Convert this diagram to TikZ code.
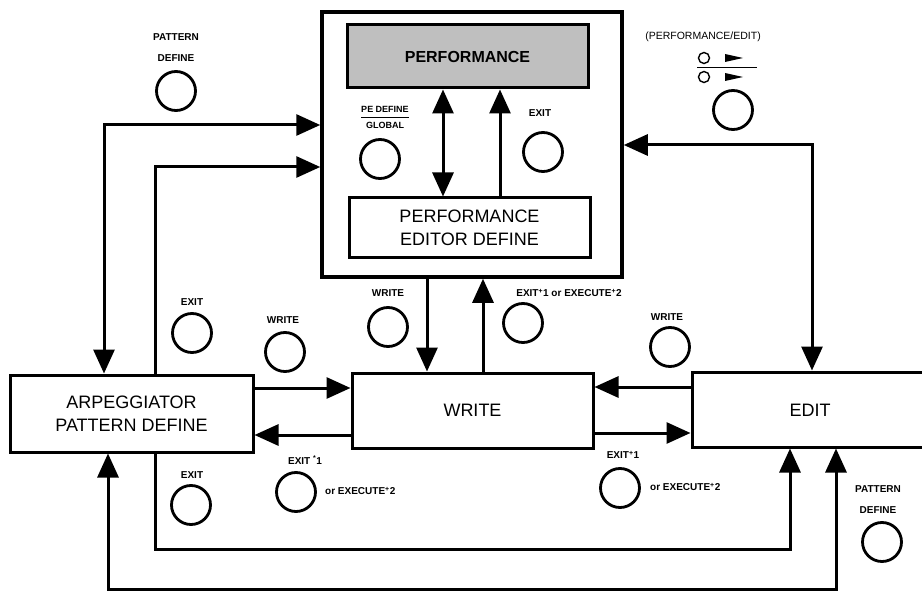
\documentclass[tikz,border=0pt]{standalone}
\usepackage{fontspec}
\setmainfont{Liberation Sans}
\usetikzlibrary{arrows.meta}

\begin{document}
\begin{tikzpicture}[x=1pt, y=-1pt,
    box/.style={rectangle, draw, line width=3pt, inner sep=0pt,
                font=\fontsize{18}{23}\selectfont, align=center},
    btn/.style={circle, draw, line width=2.8pt, minimum size=39pt, inner sep=0pt},
    lbl/.style={font=\fontsize{10}{21}\selectfont\bfseries, align=center, inner sep=0pt},
    arr/.style={-{Triangle[length=24pt, width=21pt]}, line width=3pt},
    arrs/.style={{Triangle[length=24pt, width=21pt]}-{Triangle[length=24pt, width=21pt]}, line width=3pt}
  ]
  \useasboundingbox (0,0) rectangle (922,591);
  \clip (0,0) rectangle (922,591);

  % Performance panel
  \node[box, line width=3.5pt, minimum width=300pt, minimum height=265pt]
        (perf) at (472,144.5) {};
  \node[box, fill=gray!50, minimum width=241pt, minimum height=63pt,
        font=\fontsize{16}{18}\selectfont\bfseries]
        (disp) at (467.5,56.5) {PERFORMANCE};
  \node[box, minimum width=241pt, minimum height=59pt]
        (ped) at (469.5,227.5) {PERFORMANCE\\EDITOR DEFINE};

  % Mode boxes
  \node[box, minimum width=243pt, minimum height=77pt]
        (arp) at (131.5,413.5) {ARPEGGIATOR\\PATTERN DEFINE};
  \node[box, minimum width=241pt, minimum height=75pt]
        (wrt) at (472.5,410.5) {WRITE};
  \node[box, minimum width=233pt, minimum height=75pt]
        (edit) at (808.5,409.5) {};
  \node[font=\fontsize{18}{23}\selectfont] (edittxt) at (810,410) {EDIT};

  % Buttons
  \node[lbl] (patdeftl) at (176,48) {PATTERN\\DEFINE};
  \node[btn] (bpatdeftl) at (176,91) {};
  \node[lbl, font=\fontsize{9}{10}\selectfont\bfseries] (pedef) at (385,119)
        {\setlength{\arrayrulewidth}{1pt}\begin{tabular}{@{}c@{}}PE DEFINE\\[1pt]\hline\rule{0pt}{11pt}GLOBAL\end{tabular}};
  \node[btn] (bpedef) at (380,159) {};
  \node[lbl] (exitp) at (540,113) {EXIT};
  \node[btn] (bexitp) at (543,152) {};
  \node[font=\fontsize{10.5}{12}\selectfont, inner sep=0pt] (perfedit) at (703,37) {(PERFORMANCE/EDIT)};
  % key symbol
  \draw[line width=1.4pt] (704,58) circle (5.5) (704,77) circle (5.5);
  \draw[line width=1.4pt] (697,67.5) -- (757,67.5);
  \fill (725,54) -- (743,58) -- (725,62) -- cycle;
  \fill (725,73) -- (743,77) -- (725,81) -- cycle;
  \node[btn] (bperfedit) at (733,110) {};

  \node[lbl] (exita) at (192,302) {EXIT};
  \node[btn] (bexita) at (192,333) {};
  \node[lbl] (writea) at (283,320) {WRITE};
  \node[btn] (bwritea) at (285,352) {};
  \node[lbl] (writep) at (388,293) {WRITE};
  \node[btn] (bwritep) at (388,327) {};
  \node[lbl] (exexp) at (569,293) {EXIT\textsuperscript{+}1 or EXECUTE\textsuperscript{+}2};
  \node[btn] (bexexp) at (523,323) {};
  \node[lbl] (writee) at (667,317) {WRITE};
  \node[btn] (bwritee) at (670,347) {};

  \node[lbl] (exitb) at (192,475) {EXIT};
  \node[btn] (bexitb) at (191,505) {};
  \node[lbl] (exexw) at (305,460) {EXIT \textsuperscript{*}1};
  \node[btn] (bexexw) at (296,492) {};
  \node[lbl, anchor=west] (exexw2) at (325,491) {or EXECUTE\textsuperscript{+}2};
  \node[lbl] (exexe) at (623,455) {EXIT\textsuperscript{+}1};
  \node[btn] (bexexe) at (620,488) {};
  \node[lbl, anchor=west] (exexe2) at (650,487) {or EXECUTE\textsuperscript{+}2};
  \node[lbl] (patdefbr) at (878,500) {PATTERN\\DEFINE};
  \node[btn] (bpatdefbr) at (882,542) {};

  % Display <-> editor define
  \draw[arrs] (disp.south -| 443,0) -- (ped.north -| 443,0);
  \draw[arr] (ped.north -| 500,0) -- (disp.south -| 500,0);

  % Performance <-> arpeggiator
  \draw[arrs] (perf.west |- 0,125) -| (arp.north -| 104,0);
  \draw[arr] (arp.north -| 155,0) |- (perf.west |- 0,167);

  % Performance <-> edit
  \draw[arrs] (perf.east |- 0,145) -| (edit.north -| 812,0);

  % Performance <-> write
  \draw[arr] (perf.south -| 427,0) -- (wrt.north -| 427,0);
  \draw[arr] (wrt.north -| 483,0) -- (perf.south -| 483,0);

  % Write <-> arpeggiator / edit
  \draw[arr] (arp.east |- 0,388) -- (wrt.west |- 0,388);
  \draw[arr] (wrt.west |- 0,435) -- (arp.east |- 0,435);
  \draw[arr] (edit.west |- 0,387) -- (wrt.east |- 0,387);
  \draw[arr] (wrt.east |- 0,433) -- (edit.west |- 0,433);

  % Arpeggiator <-> edit (bottom loops)
  \draw[arr] (arp.south -| 155,0) -- ++(0,96) -| (edit.south -| 790,0);
  \draw[arrs] (arp.south -| 108,0) -- ++(0,136) -| (edit.south -| 836,0);
\end{tikzpicture}
\end{document}
